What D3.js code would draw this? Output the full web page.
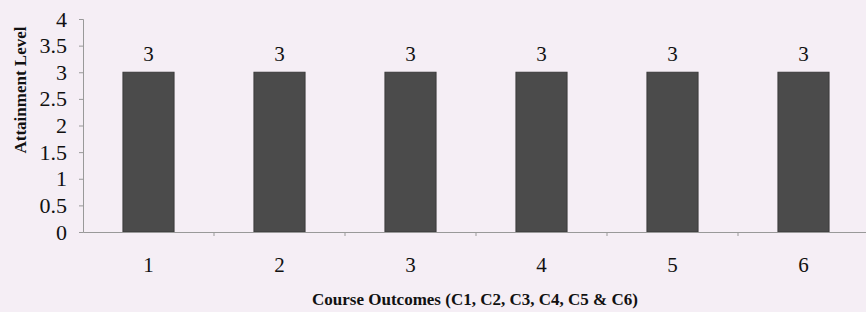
<!DOCTYPE html>
<html><head><meta charset="utf-8">
<script src="https://cdn.jsdelivr.net/npm/d3@7"></script>
<style>
html,body{margin:0;padding:0;background:#f5eef5;}
svg{display:block;}
</style></head>
<body><svg id="c" width="866" height="312"></svg>
<script>
const categories = ["1","2","3","4","5","6"];
const values = [3,3,3,3,3,3];
const labels = ["3","3","3","3","3","3"];
const yTicks = [0,0.5,1,1.5,2,2.5,3,3.5,4];
const xTitle = "Course Outcomes (C1, C2, C3, C4, C5 & C6)";
const yTitle = "Attainment Level";

const svg = d3.select("#c");
const W = 866, H = 312;
const m = {left:83, right:-3, top:19, bottom:80};
const x = d3.scaleBand().domain(categories).range([m.left, W - m.right]).paddingInner(0.61).paddingOuter(0.305);
const y = d3.scaleLinear().domain([0,4]).range([H - m.bottom, m.top]);

svg.append("rect").attr("width",W).attr("height",H).attr("fill","#f5eef5");

// bars
svg.append("g").selectAll("rect").data(values).join("rect")
  .attr("x",(d,i)=>x(categories[i]))
  .attr("y",d=>y(d))
  .attr("width",x.bandwidth())
  .attr("height",d=>y(0)-y(d))
  .attr("fill","#4b4b4b")
  .attr("stroke","#3a3a3a").attr("stroke-width",1);

// data labels
svg.append("g").selectAll("text").data(values).join("text")
  .attr("x",(d,i)=>x(categories[i])+x.bandwidth()/2)
  .attr("y",d=>y(d)-11)
  .attr("text-anchor","middle")
  .attr("font-family","Liberation Serif, serif").attr("font-size",21).attr("fill","#111")
  .text((d,i)=>labels[i]);

// y axis
const ya = svg.append("g").attr("transform",`translate(${m.left},0)`)
  .call(d3.axisLeft(y).tickValues(yTicks).tickSize(4).tickPadding(12).tickFormat(d3.format("~g")));
ya.select(".domain").attr("stroke","#999");
ya.selectAll(".tick line").attr("stroke","#999");
ya.selectAll("text").attr("font-family","Liberation Serif, serif").attr("font-size",22).attr("fill","#111");

// x axis
const xa = svg.append("g").attr("transform",`translate(0,${y(0)})`)
  .call(d3.axisBottom(x).tickSize(0).tickPadding(25));
xa.select(".domain").attr("stroke","#999");
xa.selectAll("text").attr("font-family","Liberation Serif, serif").attr("font-size",21).attr("fill","#111");
// category separators
const seps = categories.slice(1).map(c => x(c) - x.step()*x.paddingInner()/2);
svg.append("g").selectAll("line").data(seps).join("line")
  .attr("x1",d=>d).attr("x2",d=>d).attr("y1",y(0)).attr("y2",y(0)+4)
  .attr("stroke","#999");

// titles
svg.append("text").attr("x",475).attr("y",305).attr("text-anchor","middle")
  .attr("font-family","Liberation Serif, serif").attr("font-weight","bold").attr("font-size",17).attr("fill","#111")
  .text(xTitle);
svg.append("text").attr("transform",`translate(26,90) rotate(-90)`).attr("text-anchor","middle")
  .attr("font-family","Liberation Serif, serif").attr("font-weight","bold").attr("font-size",17).attr("fill","#111")
  .text(yTitle);
</script></body></html>
